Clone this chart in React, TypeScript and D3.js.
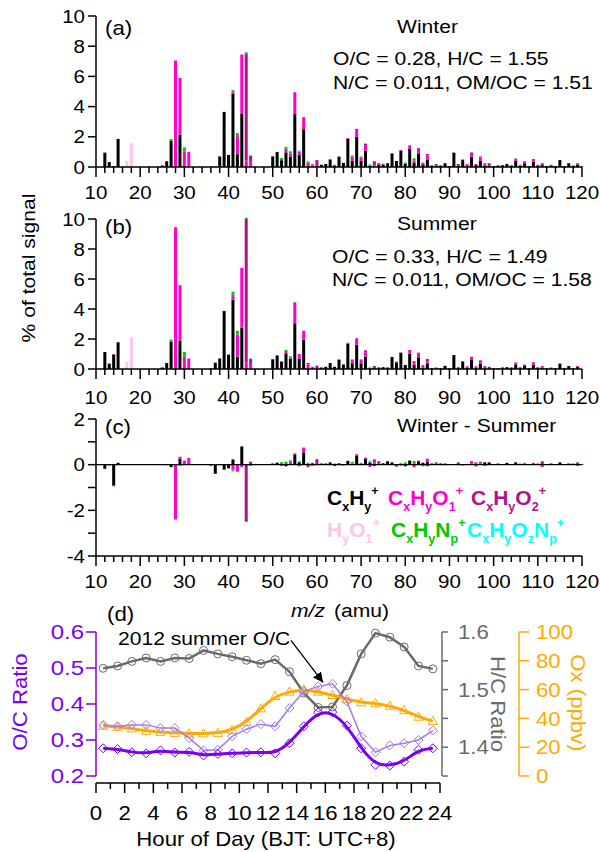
import React from "react";
import * as d3 from "d3";

const W = 600;
const H = 852;
const FONT = "'Liberation Sans', Arial, Helvetica, sans-serif";
const SX = 1.11; // the original lettering is a little wider than Arial

// ion families, in stacking order (bottom -> top)
const families = ["CxHy", "CxHyO1", "CxHyO2", "HyO1", "CxHyNp", "CxHyOzNp"];
const familyColors = ["#000000", "#ff00cc", "#b0128a", "#ffc4ec", "#00c800", "#00ffff"];

// [m/z, CxHy, CxHyO1, CxHyO2, HyO1, CxHyNp, CxHyOzNp]  (% of total signal, trailing zeros left out)
const winterSpectrum: number[][] = [
  [12, 0.95], [13, 0.33], [14, 0.05], [15, 1.86], [17, 0, 0, 0, 0.4], [18, 0, 0, 0, 1.6],
  [25, 0.1], [26, 0.38], [27, 1.73, 0, 0, 0, 0.13], [28, 0, 7.05], [29, 2.15, 3.75],
  [30, 0, 1.0, 0, 0, 0.3], [31, 0, 1.0], [37, 0.02], [38, 0.7], [39, 3.65], [40, 0.8],
  [41, 4.85, 0.12, 0, 0, 0.12], [42, 0.85, 1.2, 0, 0, 0.2], [43, 3.55, 3.9], [44, 0, 0.45, 7.05, 0, 0.1],
  [45, 0, 0.35, 0.4, 0, 0, 0.06], [50, 0.7], [51, 1.0], [52, 0.45, 0, 0, 0, 0.15],
  [53, 0.97, 0.23, 0, 0, 0.13], [54, 0.69, 0.21, 0, 0, 0.14], [55, 3.5, 1.45],
  [56, 0.8, 0.24, 0, 0, 0, 0.06], [57, 2.5, 0.8], [58, 0, 0.29, 0, 0, 0.08], [59, 0, 0.1, 0.08],
  [60, 0, 0, 0.46], [61, 0.15], [62, 0.2], [63, 0.5], [64, 0.1, 0, 0, 0, 0.05], [65, 0.69],
  [66, 0.27], [67, 1.86, 0.06], [68, 0.4, 0.29, 0, 0, 0.08], [69, 2.0, 0.45, 0.07],
  [70, 0.4, 0.24, 0, 0, 0.06], [71, 1.08, 0.32, 0.15], [72, 0.1, 0, 0, 0, 0.04, 0.04],
  [73, 0, 0.1, 0.28], [74, 0.15, 0, 0.1], [75, 0.18], [76, 0.25], [77, 0.9], [78, 0.4],
  [79, 1.06, 0, 0.06], [80, 0.2, 0, 0, 0, 0.1], [81, 1.2, 0.24], [82, 0.29, 0.15, 0, 0, 0.14],
  [83, 0.9, 0.3, 0.06], [84, 0.18, 0.11], [85, 0.5, 0.27, 0.09], [86, 0.1], [87, 0.1, 0, 0.1],
  [88, 0.1], [89, 0.25], [90, 0.05], [91, 0.95], [92, 0.1, 0, 0.1], [93, 0.46, 0, 0.04],
  [94, 0.1, 0.1], [95, 0.69, 0.26, 0.03], [96, 0.15, 0, 0.05], [97, 0.4, 0.24, 0.06],
  [98, 0.1, 0.15], [99, 0.1, 0, 0.15], [100, 0.05], [101, 0.1], [102, 0.12], [103, 0.2],
  [104, 0.1], [105, 0.4, 0.13, 0.03], [106, 0.1, 0, 0, 0, 0.05], [107, 0.25, 0.13], [108, 0.05],
  [109, 0.35, 0.18], [110, 0.1, 0, 0.05], [111, 0.12, 0, 0.13], [112, 0.05], [113, 0.1, 0, 0.05],
  [114, 0.05], [115, 0.46], [116, 0.05], [117, 0.25], [118, 0.05, 0, 0.05], [119, 0.15, 0, 0.1],
  [120, 0.03],
];

const summerSpectrum: number[][] = [
  [12, 1.13], [13, 0.36], [14, 0.96, 0, 0.04], [15, 1.78], [17, 0, 0, 0, 0.47], [18, 0, 0, 0, 2.1],
  [25, 0.1], [26, 0.4], [27, 1.84, 0, 0, 0, 0.12], [28, 0, 9.45], [29, 1.9, 3.65, 0, 0, 0.05],
  [30, 0, 0.82, 0, 0, 0.31], [31, 0, 0.7], [36, 0, 0, 0.05], [37, 0.42], [38, 0.7, 0, 0, 0, 0.03],
  [39, 3.87], [40, 0.96], [41, 4.62, 0.33, 0, 0, 0.2], [42, 0.82, 1.48, 0, 0, 0.25],
  [43, 2.75, 4.0], [44, 0, 0.45, 9.55, 0, 0.08], [45, 0, 0.4, 0.27, 0, 0, 0.05], [50, 0.65],
  [51, 0.91], [52, 0.49, 0, 0, 0, 0.04], [53, 1.04, 0.16, 0, 0, 0.07], [54, 0.69, 0.09, 0, 0, 0.07],
  [55, 3.05, 1.4], [56, 0.69, 0.31], [57, 1.96, 0.59], [58, 0, 0.31, 0.09], [59, 0, 0.15],
  [60, 0, 0, 0.22], [61, 0.1], [62, 0.15], [63, 0.4], [64, 0.15], [65, 0.63], [66, 0.3],
  [67, 1.69, 0.06], [68, 0.38, 0.26], [69, 1.62, 0.38, 0.05], [70, 0.38, 0.26],
  [71, 0.82, 0.27, 0.15], [72, 0, 0.1], [73, 0.05, 0, 0.15], [74, 0.1], [75, 0.12], [76, 0.1],
  [77, 0.8], [78, 0.44, 0, 0.05], [79, 1.09], [80, 0.27], [81, 1.02, 0.25], [82, 0.27, 0.26],
  [83, 0.78, 0.31], [84, 0.1, 0.1, 0, 0, 0.07], [85, 0.38, 0.13, 0.16], [86, 0.05],
  [87, 0.05, 0, 0.05], [88, 0.05], [89, 0.2, 0.02], [90, 0.05], [91, 0.93], [92, 0.1],
  [93, 0.49, 0, 0.04], [94, 0.1, 0.08], [95, 0.64, 0.18], [96, 0.1, 0.08], [97, 0.36, 0.22],
  [98, 0, 0.15, 0.05], [99, 0, 0, 0.15], [100, 0.05], [101, 0.05], [102, 0.1], [103, 0.12],
  [104, 0.1], [105, 0.31, 0.13], [106, 0.1], [107, 0.2, 0.1], [108, 0.05], [109, 0.29, 0.16],
  [110, 0.1], [111, 0.1, 0.1], [112, 0.05], [113, 0.05, 0, 0.05], [114, 0.05], [115, 0.36],
  [116, 0.05], [117, 0.2], [118, 0.05], [119, 0.15, 0.05],
];

// diurnal cycles, hour of day (BJT)
const hours = [0.5, 1.5, 2.5, 3.5, 4.5, 5.5, 6.5, 7.5, 8.5, 9.5, 10.5, 11.5,
  12.5, 13.5, 14.5, 15.5, 16.5, 17.5, 18.5, 19.5, 20.5, 21.5, 22.5, 23.5];
const ocRatio = [0.277, 0.275, 0.266, 0.263, 0.271, 0.265, 0.267, 0.257, 0.261, 0.263, 0.265, 0.266,
  0.263, 0.291, 0.338, 0.377, 0.377, 0.34, 0.277, 0.231, 0.229, 0.24, 0.273, 0.277];
const ocSummer2012 = [0.342, 0.338, 0.342, 0.342, 0.333, 0.333, 0.305, 0.271, 0.273, 0.31, 0.33, 0.344,
  0.338, 0.389, 0.435, 0.449, 0.456, 0.407, 0.31, 0.266, 0.285, 0.291, 0.3, 0.326];
const hcRatio = [1.537, 1.541, 1.549, 1.555, 1.549, 1.555, 1.554, 1.568, 1.562, 1.557, 1.551, 1.545,
  1.552, 1.531, 1.494, 1.469, 1.47, 1.507, 1.562, 1.598, 1.591, 1.574, 1.541, 1.536];
const oxPpbv = [34.8, 34.1, 33.0, 31.3, 30.6, 29.9, 29.5, 29.5, 29.9, 31.8, 37.6, 46.9,
  55.5, 58.5, 60.1, 58.5, 56.2, 53.4, 51.1, 50.4, 48.7, 45.7, 41.1, 38.1];

const PURPLE = "#7b00f0";
const LIGHT_PURPLE = "#a57be6";
const GRAY = "#6a6a6a";
const ORANGE = "#ffaa00";

type Row = { [k: string]: number };

const toTable = (rows: number[][]): Row[] =>
  rows.map((r) => {
    const o: Row = { mz: r[0] };
    families.forEach((f, i) => (o[f] = r[i + 1] ?? 0));
    return o;
  });

const winterTable = toTable(winterSpectrum);
const summerTable = toTable(summerSpectrum);
const winterByMz = new Map(winterTable.map((d) => [d.mz, d]));
const summerByMz = new Map(summerTable.map((d) => [d.mz, d]));
const diffTable: Row[] = d3.range(12, 121).map((mz) => {
  const o: Row = { mz };
  families.forEach((f) => {
    // the HyO1 family is not shown in the difference panel
    o[f] = f === "HyO1" ? 0 : (winterByMz.get(mz)?.[f] ?? 0) - (summerByMz.get(mz)?.[f] ?? 0);
  });
  return o;
});

const xMz = d3.scaleLinear().domain([10, 120]).range([96, 582]);
const BAR_W = 3;

type TProps = {
  x: number; y: number; anchor?: string; size?: number; fill?: string; sx?: number;
  rotate?: number; weight?: string; italic?: boolean; dy?: string; children: React.ReactNode;
};
const T = ({ x, y, anchor = "start", size = 19, fill = "#000", rotate = 0, weight, italic, dy, sx = SX, children }: TProps) => (
  <text
    transform={`translate(${x},${y}) rotate(${rotate}) scale(${sx},1)`}
    textAnchor={anchor as any}
    fontSize={size}
    fill={fill}
    fontWeight={weight}
    fontStyle={italic ? "italic" : undefined}
    dy={dy}
  >
    {children}
  </text>
);

const Formula = ({ x, y, fill, parts }: { x: number; y: number; fill: string; parts: [string, string?][] }) => {
  let cur = 0;
  return (
    <T x={x} y={y} size={20} sx={1.05} weight="bold" fill={fill}>
      {parts.map(([t, k], i) => {
        const target = k === "sub" ? 6 : k === "sup" ? -10 : 0;
        const dy = target - cur;
        cur = target;
        return (
          <tspan key={i} dy={dy} fontSize={k ? 12 : 20}>
            {t}
          </tspan>
        );
      })}
    </T>
  );
};

const BarPanel = ({ table, y, diverging, axisY, labelY, yTicks, yLabels }: {
  table: Row[]; y: d3.ScaleLinear<number, number>; diverging?: boolean;
  axisY: number; labelY: number; yTicks: number[]; yLabels: number[];
}) => {
  const stack = d3.stack<Row>().keys(families);
  if (diverging) stack.offset(d3.stackOffsetDiverging);
  const series = stack(table);
  const [d0, d1] = y.domain();
  const xTicks = d3.range(10, 121, 2);
  return (
    <g>
      {series.map((s, i) => (
        <g key={s.key} fill={familyColors[i]}>
          {s.map((d) => {
            const h = Math.abs(y(d[0]) - y(d[1]));
            if (h < 0.01) return null;
            return (
              <rect key={d.data.mz} x={xMz(d.data.mz) - BAR_W / 2} y={Math.min(y(d[0]), y(d[1]))}
                width={BAR_W} height={h} />
            );
          })}
        </g>
      ))}
      {diverging && <line x1={96} x2={582} y1={y(0)} y2={y(0)} stroke="#000" strokeWidth={1.2} />}
      {/* y axis */}
      <line x1={96} x2={96} y1={y(d0)} y2={y(d1)} stroke="#000" strokeWidth={1.5} />
      {yTicks.map((t) => (
        <line key={t} x1={88} x2={96} y1={y(t)} y2={y(t)} stroke="#000" strokeWidth={1.5} />
      ))}
      {yLabels.map((t) => (
        <T key={t} x={85} y={y(t)} anchor="end" size={18.5} dy="0.36em">
          {t < 0 ? `-${Math.abs(t)}` : t}
        </T>
      ))}
      {/* x axis */}
      <line x1={96} x2={582} y1={axisY} y2={axisY} stroke="#000" strokeWidth={1.5} />
      {xTicks.map((t) => (
        <line key={t} x1={xMz(t)} x2={xMz(t)} y1={axisY} y2={axisY + (t % 10 === 0 ? 10 : 6)}
          stroke="#000" strokeWidth={1.5} />
      ))}
      {xTicks.filter((t) => t % 10 === 0).map((t) => (
        <T key={t} x={xMz(t)} y={labelY} anchor="middle" size={18.5}>
          {t}
        </T>
      ))}
    </g>
  );
};

const diamond = "M0,-4.5L4.5,0L0,4.5L-4.5,0Z";
const triangle = "M0,-4.8L4.6,3.4L-4.6,3.4Z";

export default function App() {
  const yA = d3.scaleLinear().domain([0, 10]).range([167, 16]);
  const yB = d3.scaleLinear().domain([0, 10]).range([369, 219]);
  const yC = d3.scaleLinear().domain([-4, 2]).range([556, 419]);

  const xH = d3.scaleLinear().domain([0, 24]).range([96, 440]);
  const yOC = d3.scaleLinear().domain([0.2, 0.6]).range([776, 632]);
  const yHC = d3.scaleLinear().domain([1.35, 1.6]).range([776, 632]);
  const yOx = d3.scaleLinear().domain([0, 100]).range([776, 632]);

  const lineOf = (vals: number[], y: d3.ScaleLinear<number, number>, curve: d3.CurveFactory) =>
    d3.line<number>().x((_, i) => xH(hours[i])).y((v) => y(v)).curve(curve)(vals) ?? "";

  const arrowFrom = [xH(13.6), yOC(0.577)];
  const arrowTo = [xH(15.84), yOC(0.46)];

  return (
    <svg width={W} height={H}
      style={{ position: "absolute", left: 0, top: 0, display: "block", fontFamily: FONT }}>
      <defs>
        <marker id="arrow" viewBox="0 0 10 10" refX="10" refY="5" markerWidth="10" markerHeight="10"
          markerUnits="userSpaceOnUse" orient="auto">
          <path d="M0,0L10,5L0,10Z" fill="#000" />
        </marker>
      </defs>
      <rect width={W} height={H} fill="#fff" />

      {/* (a) winter */}
      <BarPanel table={winterTable} y={yA} axisY={167} labelY={199}
        yTicks={[0, 2, 4, 6, 8, 10]} yLabels={[0, 2, 4, 6, 8, 10]} />
      <T x={105} y={35} size={20}>(a)</T>
      <T x={397} y={33}>Winter</T>
      <T x={333} y={65}>O/C = 0.28, H/C = 1.55</T>
      <T x={333} y={89}>N/C = 0.011, OM/OC = 1.51</T>

      {/* (b) summer */}
      <BarPanel table={summerTable} y={yB} axisY={369} labelY={404}
        yTicks={[0, 2, 4, 6, 8, 10]} yLabels={[0, 2, 4, 6, 8, 10]} />
      <T x={105} y={234} size={20}>(b)</T>
      <T x={397} y={230}>Summer</T>
      <T x={332} y={263}>O/C = 0.33, H/C = 1.49</T>
      <T x={332} y={286}>N/C = 0.011, OM/OC = 1.58</T>

      <T x={35} y={268} anchor="middle" rotate={-90}>% of total signal</T>

      {/* (c) difference */}
      <BarPanel table={diffTable} y={yC} diverging axisY={556} labelY={588}
        yTicks={[-4, -3, -2, -1, 0, 1, 2]} yLabels={[-4, -2, 0, 2]} />
      <T x={105} y={434} size={20}>(c)</T>
      <T x={397} y={432}>Winter - Summer</T>

      <Formula x={327} y={505} fill={familyColors[0]} parts={[["C"], ["x", "sub"], ["H"], ["y", "sub"], ["+", "sup"]]} />
      <Formula x={388} y={505} fill={familyColors[1]}
        parts={[["C"], ["x", "sub"], ["H"], ["y", "sub"], ["O"], ["1", "sub"], ["+", "sup"]]} />
      <Formula x={471} y={505} fill={familyColors[2]}
        parts={[["C"], ["x", "sub"], ["H"], ["y", "sub"], ["O"], ["2", "sub"], ["+", "sup"]]} />
      <Formula x={327} y={537} fill={familyColors[3]} parts={[["H"], ["y", "sub"], ["O"], ["1", "sub"], ["+", "sup"]]} />
      <Formula x={391} y={537} fill={familyColors[4]}
        parts={[["C"], ["x", "sub"], ["H"], ["y", "sub"], ["N"], ["p", "sub"], ["+", "sup"]]} />
      <Formula x={467} y={537} fill={familyColors[5]}
        parts={[["C"], ["x", "sub"], ["H"], ["y", "sub"], ["O"], ["z", "sub"], ["N"], ["p", "sub"], ["+", "sup"]]} />

      <T x={291} y={617} italic>m/z</T>
      <T x={334} y={617}>(amu)</T>

      {/* (d) diurnal cycles */}
      <T x={107} y={621} size={20}>(d)</T>

      <path d={lineOf(hcRatio, yHC, d3.curveLinear)} fill="none" stroke={GRAY} strokeWidth={2.5} />
      {hcRatio.map((v, i) => (
        <circle key={i} cx={xH(hours[i])} cy={yHC(v)} r={4} fill="none" stroke={GRAY} strokeWidth={1} />
      ))}

      <path d={lineOf(oxPpbv, yOx, d3.curveBasis)} fill="none" stroke={ORANGE} strokeWidth={3} />
      {oxPpbv.map((v, i) => (
        <path key={i} d={triangle} transform={`translate(${xH(hours[i])},${yOx(v)})`} fill="none"
          stroke={ORANGE} strokeWidth={1} />
      ))}

      <path d={lineOf(ocSummer2012, yOC, d3.curveLinear)} fill="none" stroke={LIGHT_PURPLE} strokeWidth={1.5} />
      {ocSummer2012.map((v, i) => (
        <path key={i} d={diamond} transform={`translate(${xH(hours[i])},${yOC(v)})`} fill="none"
          stroke={LIGHT_PURPLE} strokeWidth={1} />
      ))}

      <path d={lineOf(ocRatio, yOC, d3.curveBasis)} fill="none" stroke={PURPLE} strokeWidth={3} />
      {ocRatio.map((v, i) => (
        <path key={i} d={diamond} transform={`translate(${xH(hours[i])},${yOC(v)})`} fill="none"
          stroke={PURPLE} strokeWidth={1} />
      ))}

      <T x={118} y={645} size={19}>2012 summer O/C</T>
      <line x1={arrowFrom[0]} y1={arrowFrom[1]} x2={arrowTo[0]} y2={arrowTo[1]} stroke="#000"
        strokeWidth={1.3} markerEnd="url(#arrow)" />

      {/* bottom axis */}
      <line x1={96} x2={440} y1={783} y2={783} stroke="#000" strokeWidth={1.5} />
      {d3.range(0, 25).map((t) => (
        <line key={t} x1={xH(t)} x2={xH(t)} y1={783} y2={783 + (t % 2 === 0 ? 10 : 6)} stroke="#000" strokeWidth={1.5} />
      ))}
      {d3.range(0, 25, 2).map((t) => (
        <T key={t} x={xH(t)} y={820} anchor="middle" size={20}>{t}</T>
      ))}
      <T x={266} y={846} anchor="middle" size={20}>Hour of Day (BJT: UTC+8)</T>

      {/* O/C axis */}
      <line x1={96} x2={96} y1={632} y2={776} stroke={PURPLE} strokeWidth={1.5} />
      {[0.2, 0.3, 0.4, 0.5, 0.6].map((t) => (
        <g key={t}>
          <line x1={86} x2={96} y1={yOC(t)} y2={yOC(t)} stroke={PURPLE} strokeWidth={1.5} />
          <T x={84} y={yOC(t)} anchor="end" size={20} sx={1.2} fill={PURPLE} dy="0.36em">{t.toFixed(1)}</T>
        </g>
      ))}
      <T x={27} y={702} anchor="middle" rotate={-90} size={20} fill={PURPLE}>O/C Ratio</T>

      {/* H/C axis */}
      <line x1={442} x2={442} y1={632} y2={776} stroke={GRAY} strokeWidth={1.5} />
      {[1.35, 1.4, 1.45, 1.5, 1.55, 1.6].map((t) => (
        <line key={t} x1={442} x2={448} y1={yHC(t)} y2={yHC(t)} stroke={GRAY} strokeWidth={1.5} />
      ))}
      {[1.4, 1.5, 1.6].map((t) => (
        <T key={t} x={458} y={yHC(t)} size={20} fill={GRAY} dy="0.36em">{t.toFixed(1)}</T>
      ))}
      <T x={491} y={704} anchor="middle" rotate={90} size={20} fill={GRAY}>H/C Ratio</T>

      {/* Ox axis */}
      <line x1={519} x2={519} y1={632} y2={776} stroke={ORANGE} strokeWidth={1.5} />
      {[0, 20, 40, 60, 80, 100].map((t) => (
        <g key={t}>
          <line x1={519} x2={529} y1={yOx(t)} y2={yOx(t)} stroke={ORANGE} strokeWidth={1.5} />
          <T x={536} y={yOx(t)} size={20} fill={ORANGE} dy="0.36em">{t}</T>
        </g>
      ))}
      <T x={571} y={703} anchor="middle" rotate={90} size={20} fill={ORANGE}>Ox (ppbv)</T>
    </svg>
  );
}
